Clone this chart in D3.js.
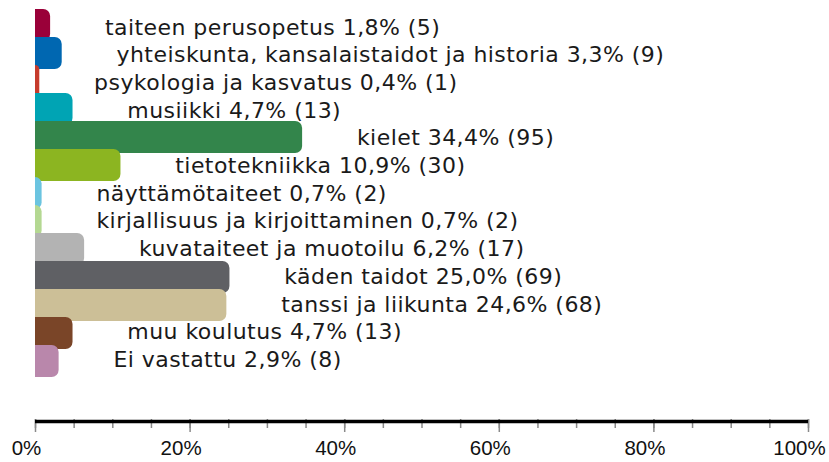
<!DOCTYPE html>
<html>
<head>
<meta charset="utf-8">
<script src="https://cdn.jsdelivr.net/npm/d3@7"></script>
<style>
  body { margin: 0; background: #fff; }
</style>
</head>
<body>
<div id="chart"></div>
<script>
// data
var categories = [
  "taiteen perusopetus",
  "yhteiskunta, kansalaistaidot ja historia",
  "psykologia ja kasvatus",
  "musiikki",
  "kielet",
  "tietotekniikka",
  "näyttämötaiteet",
  "kirjallisuus ja kirjoittaminen",
  "kuvataiteet ja muotoilu",
  "käden taidot",
  "tanssi ja liikunta",
  "muu koulutus",
  "Ei vastattu"
];
var percents = [1.8, 3.3, 0.4, 4.7, 34.4, 10.9, 0.7, 0.7, 6.2, 25.0, 24.6, 4.7, 2.9];
var counts = [5, 9, 1, 13, 95, 30, 2, 2, 17, 69, 68, 13, 8];
var colors = ["#9a0039", "#0067b1", "#c63b2c", "#00a4b4", "#33854b", "#8cb521",
              "#6bc4e0", "#b4d892", "#b3b3b3", "#5f6064", "#ccbf97", "#7a4528", "#b987ab"];
var tickValues = [0, 20, 40, 60, 80, 100];

var width = 829;
var height = 462;

var svg = d3.select("#chart").append("svg")
    .attr("width", width)
    .attr("height", height);

var x = d3.scaleLinear().domain([0, 100]).range([35, 808]);

// bars overlap a little: step 28, height 32
var y = d3.scaleBand().domain(categories).range([9, 9 + 28 * 13]).padding(0);
var barH = 32;
var labelY = d3.scalePoint().domain(categories).range([34.5, 367]);

var rows = categories.map(function (c, i) {
  return { name: c, pct: percents[i], count: counts[i], color: colors[i] };
});

function barPath(d) {
  var x0 = x(0), x1 = x(d.pct) + 1.2, y0 = y(d.name), y1 = y0 + barH;
  var w = x1 - x0;
  var r = Math.min(7, w);
  return "M" + x0 + "," + y0 +
    "H" + (x1 - r) +
    "A" + r + "," + r + " 0 0 1 " + x1 + "," + (y0 + r) +
    "V" + (y1 - r) +
    "A" + r + "," + r + " 0 0 1 " + (x1 - r) + "," + y1 +
    "H" + x0 + "Z";
}

svg.selectAll("path.bar")
    .data(rows)
    .enter()
    .append("path")
    .attr("class", "bar")
    .attr("d", barPath)
    .attr("fill", function (d) { return d.color; });

svg.selectAll("text.label")
    .data(rows)
    .enter()
    .append("text")
    .attr("class", "label")
    .attr("x", function (d) { return x(d.pct) + 56; })
    .attr("y", function (d) { return labelY(d.name); })
    .attr("font-family", "DejaVu Sans, Verdana, sans-serif")
    .attr("font-size", "22px")
    .attr("letter-spacing", "0.45px")
    .attr("fill", "#1a1a1a")
    .text(function (d) {
      return d.name + " " + d.pct.toFixed(1).replace(".", ",") + "% (" + d.count + ")";
    });

// axis: minor ticks every 5%, major every 20%
var axisY = 419;

svg.append("g")
    .attr("transform", "translate(0," + axisY + ")")
    .call(d3.axisBottom(x).tickValues(d3.range(0, 101, 5)).tickSize(9).tickFormat(""))
    .call(function (g) {
      g.select(".domain").remove();
      g.selectAll(".tick line").attr("stroke", "#8a8a8a").attr("stroke-width", 1.5);
    });

svg.append("g")
    .attr("transform", "translate(0," + axisY + ")")
    .call(d3.axisBottom(x).tickValues(tickValues).tickSize(13).tickFormat(function (d) { return d + "%"; }))
    .call(function (g) {
      g.select(".domain").remove();
      g.selectAll(".tick line").attr("stroke", "#8a8a8a").attr("stroke-width", 1.5);
      g.selectAll(".tick text")
        .attr("y", 36)
        .attr("dy", 0)
        .attr("dx", -9)
        .attr("fill", "#111")
        .attr("font-family", "Liberation Sans, Arial, sans-serif")
        .attr("font-size", "20.5px");
    });

svg.append("line")
    .attr("x1", x(0))
    .attr("x2", x(100))
    .attr("y1", 421.5)
    .attr("y2", 421.5)
    .attr("stroke", "#000")
    .attr("stroke-width", 3.5);
</script>
</body>
</html>
